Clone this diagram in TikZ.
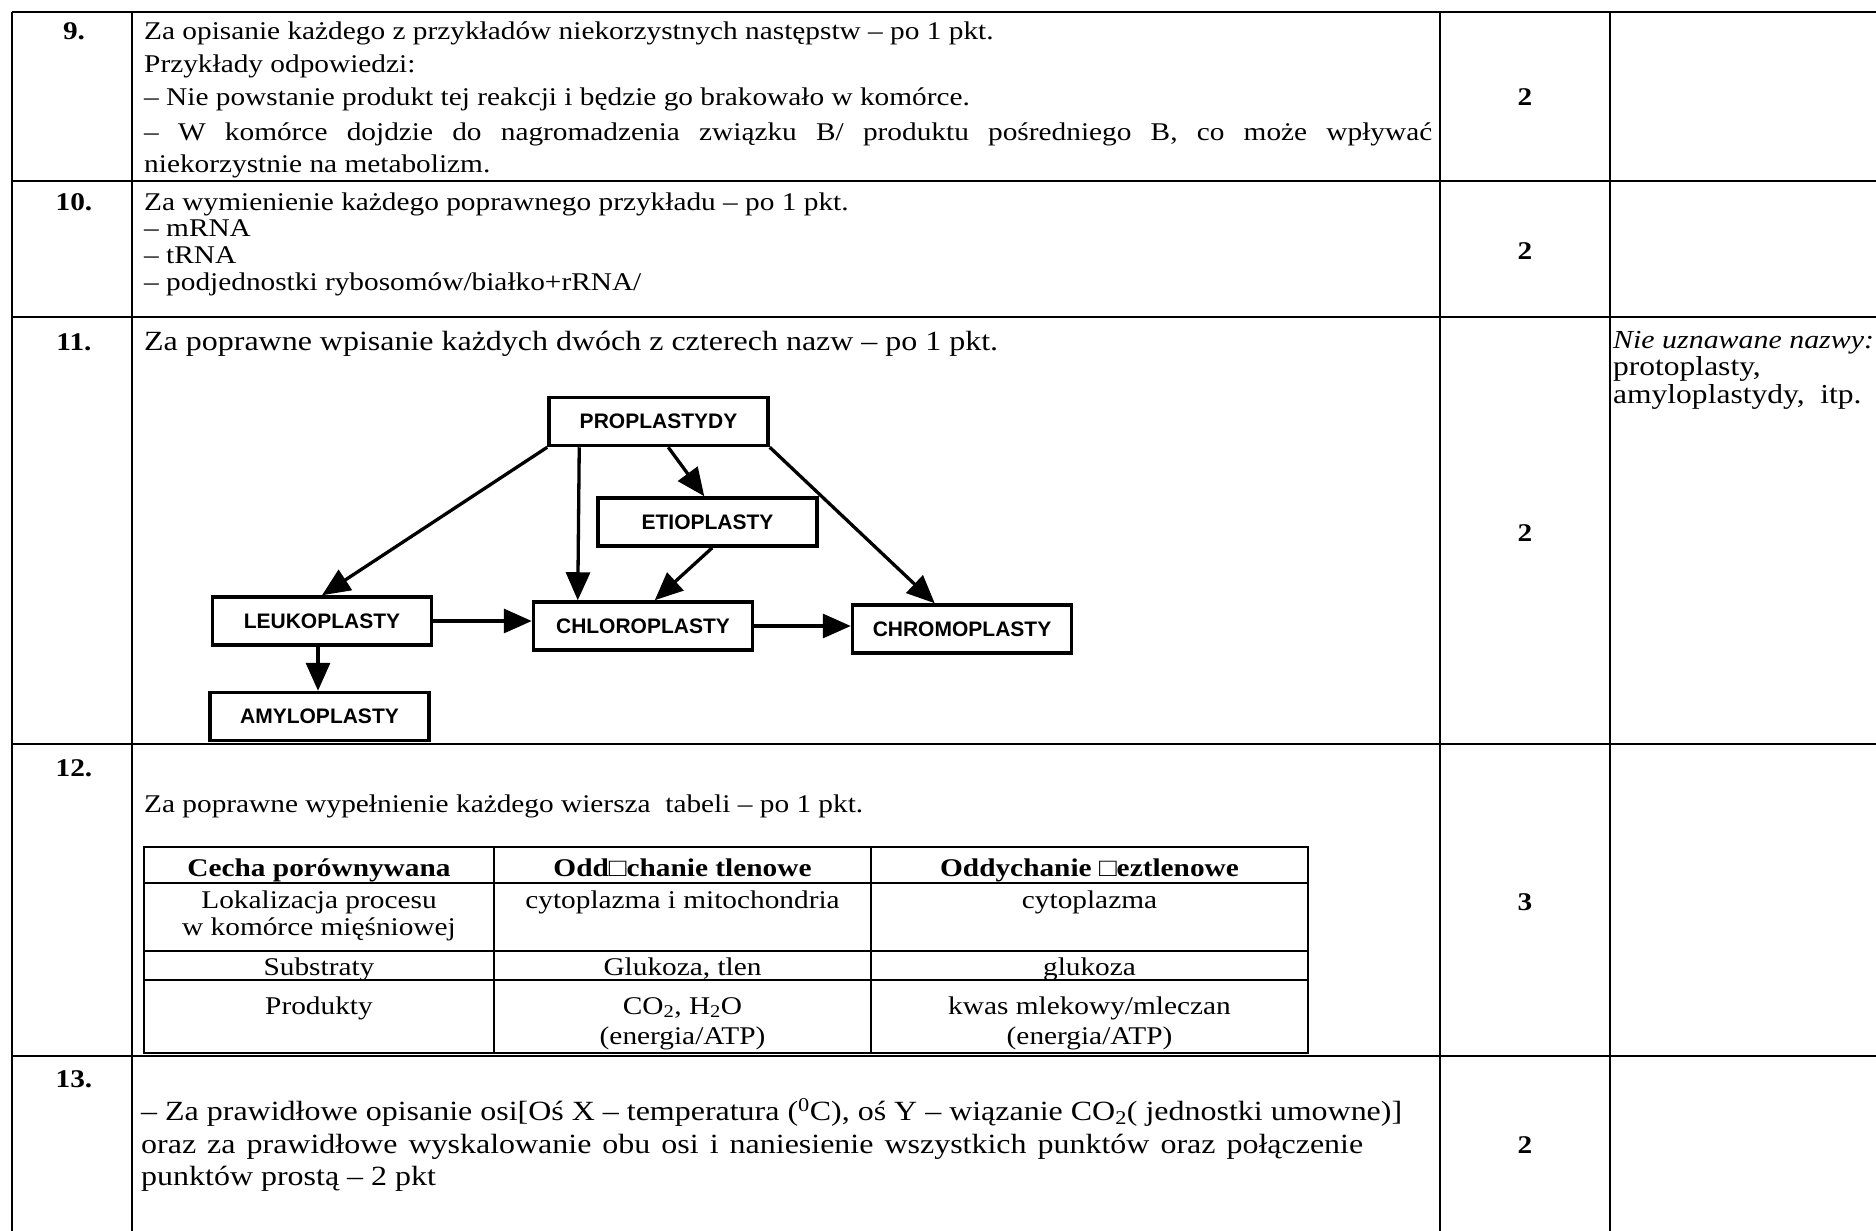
\documentclass[tikz,border=0pt]{standalone}
\usepackage{fontspec}
\setmainfont{Liberation Serif}[FakeStretch=1.15]
\setsansfont{Liberation Sans}
\usetikzlibrary{arrows.meta,calc}
\begin{document}
\begin{tikzpicture}[x=1pt,y=-1pt,
  hl/.style={line width=2.6pt},
  vl/.style={line width=2pt},
  tl/.style={line width=1.8pt},
  txt/.style={anchor=base west,yshift=-10pt,inner sep=0pt,font=\fontsize{25.5}{29}\selectfont},
  big/.style={anchor=base west,yshift=-10.5pt,inner sep=0pt,font=\fontsize{27.8}{32}\selectfont},
  note/.style={anchor=base west,yshift=-10pt,inner sep=0pt,font=\fontsize{27.4}{31}\selectfont},
  lab/.style={anchor=base,yshift=-10pt,inner sep=0pt,font=\fontsize{25.5}{29}\selectfont\bfseries},
  num/.style={anchor=base,yshift=-8.6pt,inner sep=0pt,font=\fontsize{25.5}{29}\selectfont\bfseries},
  cell/.style={anchor=base,yshift=-10pt,inner sep=0pt,font=\fontsize{25.5}{29}\selectfont},
  hcell/.style={anchor=base,yshift=-10pt,inner sep=0pt,font=\fontsize{25.5}{29}\selectfont\bfseries},
  box/.style={draw,line width=3.5pt,minimum width=219pt,minimum height=48pt,inner sep=0pt,
    font=\sffamily\bfseries\fontsize{21}{25}\selectfont},
  arr/.style={line width=3.3pt,-{Triangle[length=28pt,width=24pt]}}
]
\useasboundingbox[fill=white] (0,0) rectangle (1876,1231);
% outer grid
\foreach \y in {12,181,317,744,1056} \draw[hl] (12,\y) -- (1876,\y);
\foreach \x in {12,132,1440,1610} \draw[vl] (\x,12) -- (\x,1231);

% row labels
\node[lab] (n9) at (74,30) {9.};
\node[lab] (n10) at (74,200) {10.};
\node[lab] (n11) at (74,340) {11.};
\node[lab] (n12) at (74,766) {12.};
\node[lab] (n13) at (74,1077) {13.};

% points
\node[num] (p9) at (1525,97) {2};
\node[num] (p10) at (1525,251) {2};
\node[num] (p11) at (1525,533) {2};
\node[num] (p12) at (1525,902) {3};
\node[num] (p13) at (1525,1145) {2};

% row 9
\node[txt] (r9a) at (144,30) {Za opisanie każdego z przykładów niekorzystnych następstw – po 1 pkt.};
\node[txt] (r9b) at (144,62) {Przykłady odpowiedzi:};
\node[txt] (r9c) at (144,95) {– Nie powstanie produkt tej reakcji i będzie go brakowało w komórce.};
\node[txt] (r9d) at (144,130) {\makebox[1288pt][s]{– W komórce dojdzie do nagromadzenia związku B/ produktu pośredniego B, co może wpływać}};
\node[txt] (r9e) at (144,162) {niekorzystnie na metabolizm.};

% row 10
\node[txt] (r10a) at (144,200) {Za wymienienie każdego poprawnego przykładu – po 1 pkt.};
\node[txt] (r10b) at (144,226.5) {– mRNA};
\node[txt] (r10c) at (144,253) {– tRNA};
\node[txt] (r10d) at (144,280) {– podjednostki rybosomów/białko+rRNA/};

% row 11
\node[big] (r11a) at (144,340) {Za poprawne wpisanie każdych dwóch z czterech nazw – po 1 pkt.};
\node[note,font=\fontsize{26}{30}\selectfont\itshape] (nt1) at (1613,338) {Nie uznawane nazwy:};
\node[note] (nt2) at (1613,365) {protoplasty,};
\node[note] (nt3) at (1613,393) {amyloplastydy,\ \ itp.};

% diagram
\node[box] (P) at (658.5,421.5) {PROPLASTYDY};
\node[box] (E) at (707.5,522) {ETIOPLASTY};
\node[box] (L) at (322,621) {LEUKOPLASTY};
\node[box] (C) at (643,626) {CHLOROPLASTY};
\node[box] (R) at (962,629) {CHROMOPLASTY};
\node[box] (A) at (319.5,716.5) {AMYLOPLASTY};

\draw[arr] (P.south west) -- (L.north);
\draw[arr] ([xshift=32pt]P.south west) -- ([xshift=46pt]C.north west);
\draw[arr] ([xshift=121pt]P.south west) -- ([xshift=108pt]E.north west);
\draw[arr] ([xshift=116pt]E.south west) -- ([xshift=123pt]C.north west);
\draw[arr] (P.south east) -- ([xshift=84pt]R.north west);
\draw[arr] (L.east) -- (L.east -| C.west);
\draw[arr] (C.east) -- (C.east -| R.west);
\draw[arr] ([xshift=-4pt]L.south) -- ([xshift=-4pt]L.south |- A.north);

% row 12
\node[txt] (r12a) at (144,802) {Za poprawne wypełnienie każdego wiersza\ \ tabeli – po 1 pkt.};
\draw[tl] (144,847) rectangle (1308,1053);
\draw[tl] (144,883) -- (1308,883);
\draw[tl] (144,951) -- (1308,951);
\draw[tl] (144,980) -- (1308,980);
\draw[tl] (494,847) -- (494,1053);
\draw[tl] (871,847) -- (871,1053);
\node[hcell] (h1) at (319,866) {Cecha porównywana};
\node[hcell] (h2) at (682.5,866) {Odd□chanie tlenowe};
\node[hcell] (h3) at (1089.5,866) {Oddychanie □eztlenowe};
\node[cell] (c21a) at (319,898) {Lokalizacja procesu};
\node[cell] (c21b) at (319,925) {w komórce mięśniowej};
\node[cell] (c22) at (682.5,898) {cytoplazma i mitochondria};
\node[cell] (c23) at (1089.5,898) {cytoplazma};
\node[cell] (c31) at (319,965) {Substraty};
\node[cell] (c32) at (682.5,965) {Glukoza, tlen};
\node[cell] (c33) at (1089.5,965) {glukoza};
\node[cell] (c41) at (319,1004) {Produkty};
\node[cell] (c42a) at (682.5,1004) {CO\textsubscript{2}, H\textsubscript{2}O};
\node[cell] (c42b) at (682.5,1034) {(energia/ATP)};
\node[cell] (c43a) at (1089.5,1004) {kwas mlekowy/mleczan};
\node[cell] (c43b) at (1089.5,1034) {(energia/ATP)};

% row 13
\node[big] (r13a) at (141,1110) {– Za prawidłowe opisanie osi[Oś X – temperatura (\textsuperscript{0}C), oś Y – wiązanie CO\textsubscript{2}( jednostki umowne)]};
\node[big] (r13b) at (141,1143) {\makebox[1222pt][s]{oraz za prawidłowe wyskalowanie obu osi i naniesienie wszystkich punktów oraz połączenie}};
\node[big] (r13c) at (141,1175) {punktów prostą – 2 pkt};
\end{tikzpicture}
\end{document}
